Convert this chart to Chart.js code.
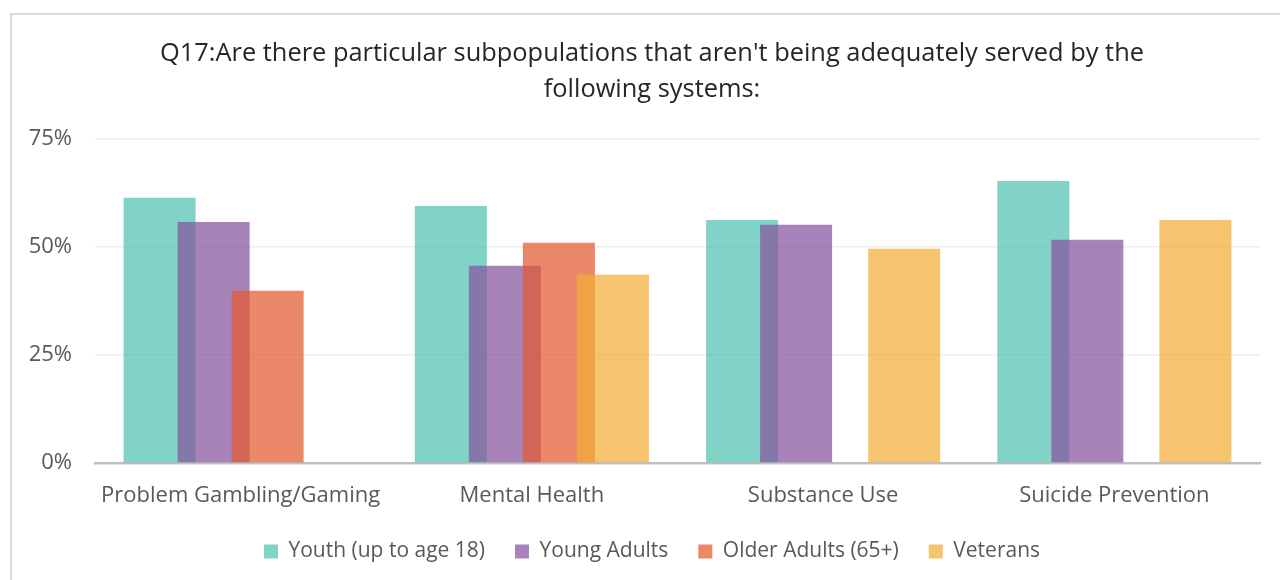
<!DOCTYPE html>
<html>
<head>
<meta charset="utf-8">
<script src="https://cdn.jsdelivr.net/npm/chart.js@4.4.1/dist/chart.umd.min.js"></script>
<style>
    html, body { margin: 0; padding: 0; background: #fff; overflow: hidden; }
    #frame { position: absolute; left: 10px; top: 13px; width: 1300px; height: 620px; border: 2px solid #d9d9d9; }
    #wrap { position: absolute; left: 0; top: 0; width: 1280px; height: 580px; }
</style>
</head>
<body>
<div id="frame"></div>
<div id="wrap"><canvas id="chart" width="1280" height="580"></canvas></div>
<script>
/** Data */
const categories = ['Problem Gambling/Gaming', 'Mental Health', 'Substance Use', 'Suicide Prevention'];
const seriesNames = ['Youth (up to age 18)', 'Young Adults', 'Older Adults (65+)', 'Veterans'];
const youth = [61.4, 59.5, 56.3, 65.3];
const youngAdults = [55.8, 45.7, 55.2, 51.7];
const olderAdults = [39.9, 51.0, null, null];
const veterans = [null, 43.6, 49.6, 56.3];
const yTicks = [0, 25, 50, 75];
const colors = ['rgba(80,194,177,0.72)', 'rgba(135,83,158,0.72)', 'rgba(227,90,49,0.72)', 'rgba(242,172,55,0.72)'];

const titleLines = [
    "Q17:Are there particular subpopulations that aren't being adequately served by the",
    'following systems:'
];

/** Draw later series on top of earlier ones (like the source) */
const forwardDraw = {
    id: 'forwardDraw',
    beforeDatasetsDraw: function (chart) {
        const metas = chart.getSortedVisibleDatasetMetas();
        for (let i = 0; i < metas.length; i++) {
            metas[i].controller.draw();
        }
        return false;
    }
};

let values = [youth, youngAdults, olderAdults, veterans];
let datasets = [];
for (let i = 0; i < values.length; i++) {
    datasets.push({
        label: seriesNames[i],
        data: values[i],
        backgroundColor: colors[i],
        borderWidth: 0
    });
}

const font = "'Open Sans', 'Noto Sans', sans-serif";

new Chart(document.getElementById('chart').getContext('2d'), {
    type: 'bar',
    data: { labels: categories, datasets: datasets },
    plugins: [forwardDraw],
    options: {
        responsive: false,
        animation: false,
        devicePixelRatio: 1,
        categoryPercentage: 0.742,
        barPercentage: 1.333,
        layout: { padding: { top: 0, left: 24, right: 0, bottom: 8 } },
        plugins: {
            title: {
                display: true,
                text: titleLines,
                color: '#262626',
                font: { family: font, size: 25.4, weight: 'normal', lineHeight: 1.42 },
                padding: { top: 36, bottom: 31 }
            },
            legend: {
                position: 'bottom',
                labels: {
                    color: '#595959',
                    font: { family: font, size: 21 },
                    boxWidth: 14,
                    boxHeight: 14,
                    padding: 30,
                    sort: function (a, b) { return a.datasetIndex - b.datasetIndex; }
                }
            },
            tooltip: { enabled: false }
        },
        scales: {
            x: {
                grid: { display: false },
                border: { color: '#bfbfbf', width: 2.5 },
                ticks: { color: '#595959', font: { family: font, size: 22 }, padding: 12 },
                afterFit: function (scale) { scale.height = 48; }
            },
            y: {
                min: 0,
                max: 75,
                afterBuildTicks: function (scale) {
                    scale.ticks = yTicks.map(function (v) { return { value: v }; });
                },
                grid: { color: '#eeeeee', lineWidth: 1.5, drawTicks: false },
                border: { display: false },
                ticks: {
                    color: '#595959',
                    font: { family: font, size: 22 },
                    padding: 23,
                    callback: function (v) { return v + '%'; }
                },
                afterFit: function (scale) { scale.width = 71; }
            },
            // empty right margin so title and legend centre like the source
            yRight: {
                position: 'right',
                grid: { display: false },
                border: { display: false },
                ticks: { display: false },
                afterFit: function (scale) { scale.width = 20; }
            }
        }
    }
});
</script>
</body>
</html>
